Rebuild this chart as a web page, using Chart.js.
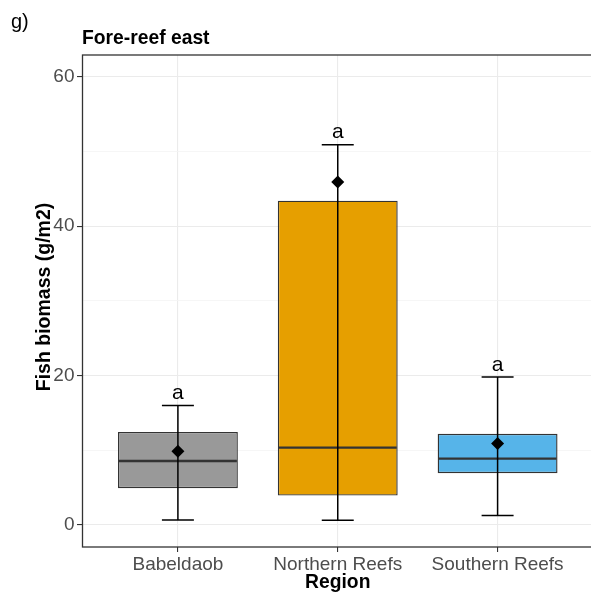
<!DOCTYPE html>
<html><head><meta charset="utf-8">
<script src="https://cdn.jsdelivr.net/npm/chart.js@4"></script>
<style>
html,body{margin:0;padding:0;overflow:hidden;background:#fff;width:591px;height:598px}
#wrap{position:absolute;left:0;top:0;width:600px;height:598px}
</style></head><body>
<div id="wrap"><canvas id="c" width="600" height="598"></canvas></div>
<script>
const categories = ['Babeldaob', 'Northern Reefs', 'Southern Reefs'];
const whiskerLow = [0.67, 0.63, 1.25];
const q1 = [4.91, 3.93, 6.92];
const medians = [8.57, 10.35, 8.88];
const q3 = [12.45, 43.4, 12.2];
const whiskerHigh = [16.0, 50.9, 19.8];
const means = [9.87, 45.9, 10.9];
const letters = ['a', 'a', 'a'];
const fillColors = ['#999999', '#E69F00', '#56B4E9'];
const majorTicks = [0, 20, 40, 60];
const minorTicks = [10, 30, 50];

const FONT = "'Liberation Sans', Arial, sans-serif";

const boxData = categories.map((c, i) => ({ x: i, y: [q1[i], q3[i]] }));
const meanData = categories.map((c, i) => ({ x: i, y: means[i] }));

const decor = {
  id: 'decor',
  afterDatasetDraw(chart, args) {
    if (args.index !== 1) return;
    const ctx = chart.ctx, xs = chart.scales.x, ys = chart.scales.y;
    const halfBox = (xs.getPixelForValue(0.375) - xs.getPixelForValue(0));
    const halfCap = (xs.getPixelForValue(0.1) - xs.getPixelForValue(0));
    ctx.save();
    categories.forEach((c, i) => {
      const cx = xs.getPixelForValue(i);
      ctx.strokeStyle = '#333333';
      ctx.lineWidth = 2.4;
      const my = ys.getPixelForValue(medians[i]);
      ctx.beginPath(); ctx.moveTo(cx - halfBox + 1, my); ctx.lineTo(cx + halfBox - 1, my); ctx.stroke();
      ctx.strokeStyle = '#000000';
      ctx.lineWidth = 1.5;
      const lo = ys.getPixelForValue(whiskerLow[i]);
      const hi = ys.getPixelForValue(whiskerHigh[i]);
      ctx.beginPath();
      ctx.moveTo(cx, lo); ctx.lineTo(cx, hi);
      ctx.moveTo(cx - halfCap, lo); ctx.lineTo(cx + halfCap, lo);
      ctx.moveTo(cx - halfCap, hi); ctx.lineTo(cx + halfCap, hi);
      ctx.stroke();
    });
    ctx.restore();
  },
  afterDraw(chart) {
    const ctx = chart.ctx, xs = chart.scales.x, ys = chart.scales.y, a = chart.chartArea;
    ctx.save();
    ctx.strokeStyle = '#333333';
    ctx.lineWidth = 1.3;
    ctx.strokeRect(a.left + 0.5, a.top, a.right - a.left, a.bottom - a.top);
    ctx.fillStyle = '#000000';
    ctx.font = "21px " + FONT;
    ctx.textAlign = 'center';
    ctx.textBaseline = 'alphabetic';
    categories.forEach((c, i) => {
      ctx.fillText(letters[i], xs.getPixelForValue(i), ys.getPixelForValue(whiskerHigh[i]) - 6.5);
    });
    ctx.textAlign = 'left';
    ctx.font = "20px " + FONT;
    ctx.fillText('g)', 11, 27.5);
    ctx.font = "bold 19.3px " + FONT;
    ctx.fillText('Fore-reef east', 82, 43.5);
    ctx.textAlign = 'center';
    ctx.fillText('Region', (a.left + xs.getPixelForValue(2.6)) / 2, 588);
    ctx.font = "bold 19.5px " + FONT;
    ctx.translate(49.5, 297);
    ctx.rotate(-Math.PI / 2);
    ctx.fillText('Fish biomass (g/m2)', 0, 0);
    ctx.restore();
  }
};

new Chart(document.getElementById('c'), {
  type: 'bar',
  data: {
    datasets: [
      {
        type: 'scatter',
        data: meanData,
        pointStyle: 'rectRot',
        pointRadius: 6.5,
        backgroundColor: '#000000',
        borderColor: '#000000',
        borderWidth: 0
      },
      {
        type: 'bar',
        data: boxData,
        backgroundColor: fillColors,
        borderColor: '#333333',
        borderWidth: 1.4,
        borderSkipped: false,
        barPercentage: 0.75,
        categoryPercentage: 1
      }
    ]
  },
  options: {
    responsive: false,
    animation: false,
    devicePixelRatio: 1,
    layout: { padding: { top: 55, right: 6, left: 0, bottom: 0 } },
    plugins: { legend: { display: false }, tooltip: { enabled: false }, title: { display: false } },
    scales: {
      x: {
        type: 'linear',
        min: -0.6,
        max: 2.6,
        offset: false,
        afterBuildTicks: s => { s.ticks = categories.map((c, i) => ({ value: i })); },
        afterFit: s => { s.height = 51; },
        ticks: {
          callback: v => categories[v],
          autoSkip: false,
          maxRotation: 0,
          color: '#4d4d4d',
          font: { family: FONT, size: 19 },
          padding: 1
        },
        grid: { offset: false, color: '#ebebeb', lineWidth: 1.1, tickLength: 5, tickColor: '#333333', drawTicks: true },
        border: { display: false }
      },
      y: {
        type: 'linear',
        min: -2.95,
        max: 62.9,
        afterBuildTicks: s => { s.ticks = majorTicks.concat(minorTicks).sort((p, q) => p - q).map(v => ({ value: v })); },
        afterFit: s => { s.width = 82; },
        ticks: {
          callback: v => majorTicks.includes(v) ? String(v) : '',
          color: '#4d4d4d',
          font: { family: FONT, size: 19 },
          padding: 2.5
        },
        grid: {
          color: c => majorTicks.includes(c.tick && c.tick.value) ? '#ebebeb' : '#f4f4f4',
          lineWidth: c => majorTicks.includes(c.tick && c.tick.value) ? 1.1 : 0.8,
          tickColor: c => majorTicks.includes(c.tick && c.tick.value) ? '#333333' : 'rgba(0,0,0,0)',
          tickLength: 5
        },
        border: { display: false }
      }
    }
  },
  plugins: [decor]
});
</script>
</body></html>
